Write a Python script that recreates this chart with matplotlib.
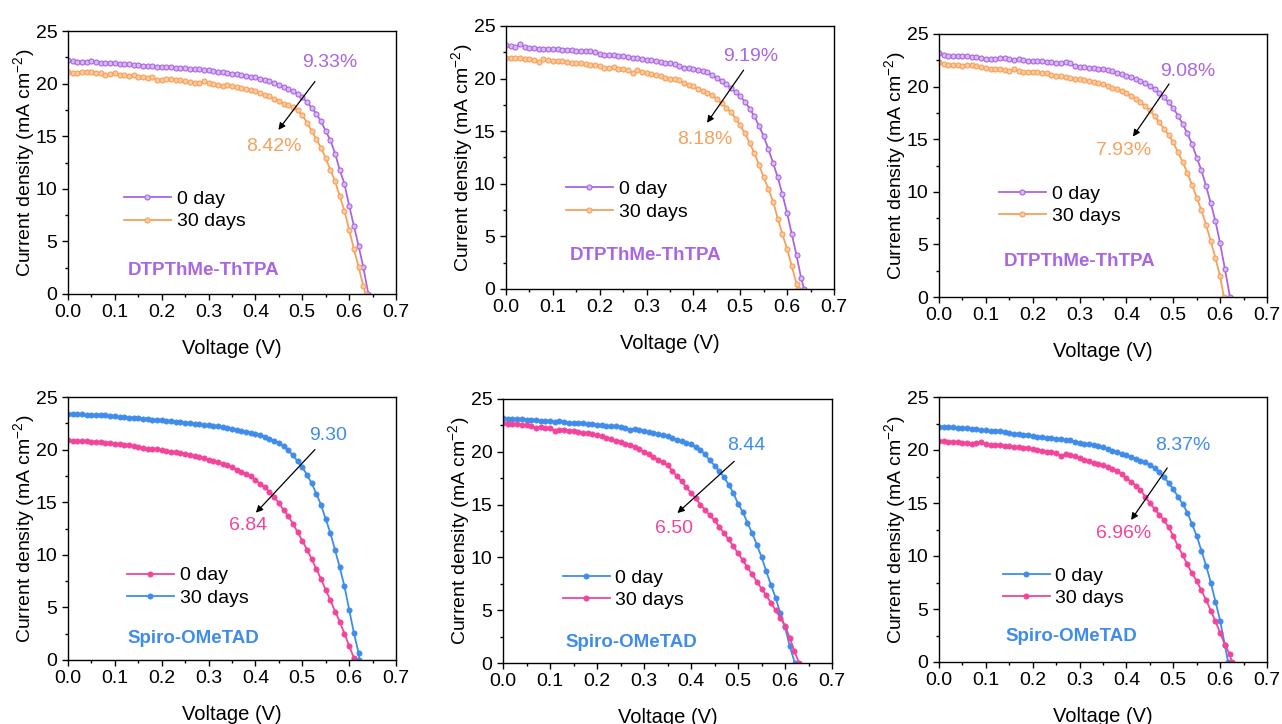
"""Six J-V panels: stability of devices with DTPThMe-ThTPA vs Spiro-OMeTAD (0 day / 30 days)."""
import matplotlib
matplotlib.use("Agg")
import matplotlib.pyplot as plt

plt.rcParams["font.family"] = ["Liberation Sans", "DejaVu Sans"]
plt.rcParams["mathtext.fontset"] = "custom"
plt.rcParams["mathtext.rm"] = "Liberation Sans"
plt.rcParams["mathtext.default"] = "regular"

PURPLE, PURPLE_FACE = "#AA66E2", "#D9B9F3"
ORANGE, ORANGE_FACE = "#F6A15B", "#FBCB9D"
PINK, BLUE = "#F2449B", "#3F8CEB"

# voltage sweep (V), same grid for every curve; each curve ends at its own Voc
V_GRID = [0.00, 0.01, 0.02, 0.03, 0.04, 0.05, 0.06, 0.07, 0.08, 0.09,
          0.10, 0.11, 0.12, 0.13, 0.14, 0.15, 0.16, 0.17, 0.18, 0.19,
          0.20, 0.21, 0.22, 0.23, 0.24, 0.25, 0.26, 0.27, 0.28, 0.29,
          0.30, 0.31, 0.32, 0.33, 0.34, 0.35, 0.36, 0.37, 0.38, 0.39,
          0.40, 0.41, 0.42, 0.43, 0.44, 0.45, 0.46, 0.47, 0.48, 0.49,
          0.50, 0.51, 0.52, 0.53, 0.54, 0.55, 0.56, 0.57, 0.58, 0.59,
          0.60, 0.61, 0.62, 0.63, 0.64]

# ---- top row: DTPThMe-ThTPA ----
J1_0 = [22.2, 22.15, 22.1, 22.1, 22.1, 22.15, 22.1, 22.0, 22.0, 21.95,
        21.95, 21.9, 21.85, 21.85, 21.8, 21.8, 21.7, 21.7, 21.65, 21.6,
        21.6, 21.55, 21.55, 21.5, 21.45, 21.45, 21.4, 21.4, 21.35, 21.3,
        21.25, 21.2, 21.1, 21.1, 21.0, 20.95, 20.9, 20.8, 20.75, 20.65,
        20.6, 20.45, 20.3, 20.2, 20.05, 19.85, 19.7, 19.5, 19.3, 19.0,
        18.7, 18.25, 17.7, 17.15, 16.4, 15.5, 14.6, 13.35, 11.8, 10.45,
        8.4, 6.5, 4.6, 2.6]
J1_30 = [21.1, 21.0, 21.0, 21.1, 21.1, 21.1, 21.05, 21.0, 20.8, 20.9,
         21.0, 20.85, 20.85, 20.75, 20.8, 20.6, 20.6, 20.55, 20.6, 20.35,
         20.35, 20.45, 20.4, 20.35, 20.3, 20.2, 20.15, 20.1, 20.05, 20.2,
         20.05, 19.95, 19.85, 19.8, 19.85, 19.75, 19.65, 19.55, 19.45, 19.35,
         19.25, 19.1, 18.95, 18.8, 18.55, 18.35, 18.1, 17.95, 17.8, 17.45,
         17.0, 16.3, 15.5, 14.7, 13.9, 12.9, 11.8, 10.7, 9.3, 7.9,
         6.1, 4.3, 2.6, 0.8]
VOC1 = (0.641, 0.635)
PCE1 = ("9.33%", "8.42%")

J2_0 = [23.15, 23.1, 23.0, 23.3, 23.0, 22.95, 22.9, 22.85, 22.85, 22.8,
        22.8, 22.8, 22.75, 22.75, 22.7, 22.65, 22.6, 22.6, 22.6, 22.55,
        22.35, 22.25, 22.2, 22.2, 22.15, 22.15, 22.05, 22.0, 21.95, 21.9,
        21.8, 21.75, 21.7, 21.6, 21.5, 21.45, 21.35, 21.2, 21.05, 21.0,
        20.95, 20.85, 20.75, 20.6, 20.35, 20.05, 19.75, 19.45, 19.1, 18.7,
        18.3, 17.8, 17.15, 16.4, 15.5, 14.5, 13.3, 12.0, 10.6, 9.0,
        7.2, 5.2, 3.2, 1.0]
J2_30 = [22.0, 21.95, 21.95, 21.95, 21.9, 21.9, 21.75, 21.6, 21.85, 21.75,
         21.7, 21.7, 21.65, 21.6, 21.5, 21.45, 21.45, 21.4, 21.3, 21.25,
         21.2, 21.0, 21.05, 21.1, 20.95, 20.9, 20.8, 20.5, 20.85, 20.65,
         20.5, 20.4, 20.3, 20.25, 20.1, 20.0, 19.95, 19.85, 19.6, 19.4,
         19.25, 19.05, 18.85, 18.65, 18.4, 18.1, 17.65, 17.25, 16.8, 16.2,
         15.55, 14.8, 13.9, 12.9, 11.8, 10.6, 9.55, 8.3, 6.7, 5.2,
         3.8, 2.15, 0.5]
VOC2 = (0.636, 0.624)
PCE2 = ("9.19%", "8.18%")

J3_0 = [23.2, 23.05, 22.95, 22.9, 22.9, 22.9, 22.9, 22.85, 22.8, 22.7,
        22.65, 22.65, 22.65, 22.7, 22.7, 22.65, 22.55, 22.6, 22.55, 22.45,
        22.45, 22.4, 22.4, 22.35, 22.3, 22.25, 22.2, 22.3, 22.2, 22.0,
        21.9, 21.85, 21.8, 21.75, 21.7, 21.65, 21.55, 21.45, 21.3, 21.2,
        21.05, 20.9, 20.75, 20.55, 20.35, 20.05, 19.75, 19.4, 19.0, 18.5,
        17.95, 17.25, 16.45, 15.55, 14.55, 13.25, 12.05, 10.55, 8.9, 7.2,
        5.1, 2.7]
J3_30 = [22.3, 22.15, 22.1, 22.1, 22.05, 22.0, 22.05, 22.05, 22.0, 21.9,
         21.75, 21.7, 21.7, 21.7, 21.55, 21.5, 21.65, 21.5, 21.35, 21.4,
         21.4, 21.35, 21.3, 21.25, 21.1, 21.0, 21.0, 20.9, 20.85, 20.75,
         20.7, 20.65, 20.55, 20.45, 20.3, 20.2, 20.05, 19.9, 19.75, 19.6,
         19.4, 19.15, 18.85, 18.5, 18.15, 17.75, 17.2, 16.6, 16.0, 15.4,
         14.7, 13.75, 12.85, 11.8, 10.65, 9.45, 8.25, 6.85, 5.3, 3.7,
         1.95]
VOC3 = (0.621, 0.608)
PCE3 = ("9.08%", "7.93%")

# ---- bottom row: Spiro-OMeTAD ----
J4_0 = [20.9, 20.85, 20.85, 20.8, 20.8, 20.75, 20.75, 20.7, 20.65, 20.6,
        20.55, 20.5, 20.45, 20.4, 20.35, 20.25, 20.15, 20.1, 20.05, 20.05,
        19.95, 19.85, 19.8, 19.75, 19.65, 19.6, 19.5, 19.4, 19.3, 19.2,
        19.05, 18.95, 18.8, 18.65, 18.5, 18.3, 18.1, 17.9, 17.7, 17.45,
        17.1, 16.75, 16.4, 16.0, 15.45, 14.95, 14.25, 13.7, 12.95, 12.15,
        11.35, 10.5, 9.6, 8.65, 7.7, 6.65, 5.7, 4.6, 3.65, 2.5,
        1.35, 0.2]
J4_30 = [23.4, 23.4, 23.4, 23.35, 23.3, 23.3, 23.25, 23.25, 23.25, 23.2,
         23.15, 23.1, 23.1, 23.05, 23.05, 23.0, 22.95, 22.9, 22.85, 22.85,
         22.8, 22.75, 22.7, 22.65, 22.6, 22.55, 22.5, 22.45, 22.4, 22.35,
         22.3, 22.25, 22.2, 22.15, 22.05, 22.0, 21.9, 21.8, 21.7, 21.6,
         21.5, 21.35, 21.2, 21.05, 20.85, 20.65, 20.35, 19.95, 19.45, 18.9,
         18.35, 17.6, 16.8, 15.8, 14.75, 13.4, 12.05, 10.45, 8.8, 7.0,
         4.8, 2.6, 0.7]
VOC4 = (0.612, 0.622)
PCE4 = ("9.30", "6.84")

J5_0 = [23.2, 23.15, 23.15, 23.1, 23.1, 23.05, 23.05, 23.0, 22.95, 22.9,
        22.9, 22.85, 22.95, 22.8, 22.75, 22.75, 22.7, 22.7, 22.65, 22.6,
        22.55, 22.5, 22.45, 22.4, 22.4, 22.35, 22.3, 22.1, 22.15, 22.1,
        21.95, 21.85, 21.75, 21.65, 21.55, 21.45, 21.3, 21.15, 21.0, 20.85,
        20.7, 20.45, 20.2, 19.75, 19.2, 18.7, 18.2, 17.6, 16.9, 16.1,
        15.1, 14.3, 13.3, 12.3, 11.2, 10.05, 8.7, 7.4, 6.2, 4.7,
        3.4, 1.6]
J5_30 = [22.7, 22.65, 22.6, 22.6, 22.55, 22.5, 22.4, 22.3, 22.35, 22.3,
         22.25, 22.0, 22.05, 22.05, 22.0, 22.0, 21.9, 21.8, 21.75, 21.65,
         21.55, 21.45, 21.35, 21.2, 21.05, 20.95, 20.75, 20.65, 20.5, 20.25,
         20.0, 19.75, 19.5, 19.25, 19.0, 18.75, 18.2, 17.7, 17.2, 16.65,
         16.1, 15.6, 15.0, 14.5, 14.0, 13.5, 12.9, 12.3, 11.7, 11.05,
         10.4, 9.75, 9.05, 8.4, 7.7, 7.05, 6.4, 5.7, 5.0, 4.3,
         3.5, 2.4, 1.1]
VOC5 = (0.621, 0.630)
PCE5 = ("8.44", "6.50")

J6_0 = [22.2, 22.2, 22.2, 22.15, 22.1, 22.05, 22.05, 22.0, 21.95, 21.9,
        21.85, 21.8, 21.75, 21.75, 21.7, 21.6, 21.55, 21.5, 21.45, 21.45,
        21.35, 21.25, 21.2, 21.15, 21.1, 21.05, 21.0, 20.95, 20.9, 20.8,
        20.7, 20.6, 20.55, 20.5, 20.35, 20.25, 20.1, 19.95, 19.8, 19.65,
        19.5, 19.3, 19.15, 19.0, 18.85, 18.6, 18.3, 17.9, 17.45, 16.9,
        16.3, 15.6, 14.9, 14.1, 13.0, 11.9, 10.5, 9.1, 7.5, 5.7,
        3.9, 1.6]
J6_30 = [20.85, 20.85, 20.8, 20.8, 20.75, 20.7, 20.65, 20.6, 20.65, 20.8,
         20.55, 20.5, 20.45, 20.45, 20.4, 20.35, 20.3, 20.25, 20.2, 20.15,
         20.1, 20.0, 19.95, 19.85, 19.8, 19.7, 19.45, 19.65, 19.5, 19.4,
         19.25, 19.1, 18.95, 18.8, 18.7, 18.55, 18.4, 18.25, 18.05, 17.7,
         17.35, 17.0, 16.65, 16.25, 15.6, 15.0, 14.45, 13.9, 13.4, 12.7,
         11.9, 10.9, 10.1, 9.2, 8.35, 7.65, 6.75, 5.85, 4.85, 3.85,
         2.75, 1.65, 0.75]
VOC6 = (0.617, 0.625)
PCE6 = ("8.37%", "6.96%")

LEG = ["0 day", "30 days"]
HTL = ["DTPThMe-ThTPA", "Spiro-OMeTAD"]

# layout (pixel boxes: left, top, right, bottom) and annotation placement
BOX = [(68, 31, 396, 294), (506, 26, 834, 289), (939, 34, 1267, 297),
       (68, 397, 396, 660), (503, 399, 832, 663), (939, 397, 1267, 662)]
LEG_POS = [(0.171, 0.318), (0.183, 0.336), (0.183, 0.35),
           (0.18, 0.278), (0.182, 0.28), (0.195, 0.283)]
LBL_POS = [(0.413, 0.091), (0.425, 0.127), (0.429, 0.135),
           (0.382, 0.082), (0.391, 0.076), (0.405, 0.096)]
HI_TXT = [(0.558, 22.0), (0.522, 22.1), (0.531, 21.4),
          (0.556, 21.3), (0.517, 20.6), (0.521, 20.4)]
LO_TXT = [(0.44, 14.0), (0.424, 14.2), (0.394, 13.9),
          (0.385, 12.75), (0.364, 12.7), (0.393, 12.15)]
ARROW = [((0.527, 20.2), (0.449, 15.6)), ((0.507, 20.8), (0.429, 15.8)),
         ((0.491, 20.25), (0.414, 15.25)), ((0.527, 20.0), (0.401, 14.0)),
         ((0.492, 19.1), (0.371, 14.2)), ((0.487, 18.3), (0.41, 13.4))]

W, H = 1282, 724
fig = plt.figure(figsize=(W / 100, H / 100), dpi=100)

panels = [
    (J1_0, J1_30, VOC1, PCE1, (PURPLE, ORANGE), True),
    (J2_0, J2_30, VOC2, PCE2, (PURPLE, ORANGE), True),
    (J3_0, J3_30, VOC3, PCE3, (PURPLE, ORANGE), True),
    (J4_0, J4_30, VOC4, PCE4, (PINK, BLUE), False),
    (J5_0, J5_30, VOC5, PCE5, (BLUE, PINK), False),
    (J6_0, J6_30, VOC6, PCE6, (BLUE, PINK), False),
]
faces = {PURPLE: PURPLE_FACE, ORANGE: ORANGE_FACE}

for i, (j0, j30, voc, pce, cols, top) in enumerate(panels):
    l, t, r, b = BOX[i]
    ax = fig.add_axes([l / W, (H - b) / H, (r - l) / W, (b - t) / H])
    for j, v_oc, c, lab in zip((j0, j30), voc, cols, LEG):
        v = V_GRID[:len(j)] + [v_oc]
        y = list(j) + [0.0]
        if top:
            ax.plot(v, y, color=c, lw=1.3, marker="o", ms=3.6, mfc=faces[c],
                    mec=c, mew=0.8, label=lab)
        else:
            ax.plot(v, y, color=c, lw=1.3, marker="o", ms=3.8, mfc=c,
                    mec=c, mew=0.5, label=lab)
    # the higher PCE labels the upper curve
    hi_c = cols[0] if max(j0) > max(j30) else cols[1]
    lo_c = cols[1] if hi_c == cols[0] else cols[0]
    ax.text(*HI_TXT[i], pce[0], color=hi_c, fontsize=14, ha="center", va="center")
    ax.text(*LO_TXT[i], pce[1], color=lo_c, fontsize=14, ha="center", va="center")
    (x0, y0), (x1, y1) = ARROW[i]
    ax.annotate("", xy=(x1, y1), xytext=(x0, y0),
                arrowprops=dict(arrowstyle="-|>", color="black", lw=0.9,
                                mutation_scale=10, shrinkA=0, shrinkB=0))
    ax.text(*LBL_POS[i], HTL[0] if top else HTL[1], transform=ax.transAxes,
            color=PURPLE if top else BLUE, fontsize=13.5, fontweight="bold",
            ha="center", va="center")
    ax.legend(loc="center left", bbox_to_anchor=LEG_POS[i], frameon=False,
              fontsize=14, handlelength=2.4, handletextpad=0.3, labelspacing=0.25,
              borderpad=0, borderaxespad=0, numpoints=1)

    ax.set_xlim(0, 0.7)
    ax.set_ylim(0, 25)
    ax.set_xticks([0.0, 0.1, 0.2, 0.3, 0.4, 0.5, 0.6, 0.7])
    ax.set_xticks([0.05, 0.15, 0.25, 0.35, 0.45, 0.55, 0.65], minor=True)
    ax.set_yticks([0, 5, 10, 15, 20, 25])
    ax.set_yticks([2.5, 7.5, 12.5, 17.5, 22.5], minor=True)
    ax.xaxis.set_major_formatter(matplotlib.ticker.FormatStrFormatter("%.1f"))
    ax.tick_params(which="major", direction="out", length=4, width=1,
                   labelsize=14, top=False, right=False, pad=3.5)
    ax.tick_params(which="minor", direction="out", length=2.5, width=1,
                   top=False, right=False)
    for s in ax.spines.values():
        s.set_linewidth(1.0)
    ax.set_xlabel("Voltage (V)", fontsize=14.5, labelpad=13)
    ax.set_ylabel("Current density (mA cm$^{-2}$)", fontsize=14, labelpad=-1)

fig.savefig("out.png", dpi=100)
